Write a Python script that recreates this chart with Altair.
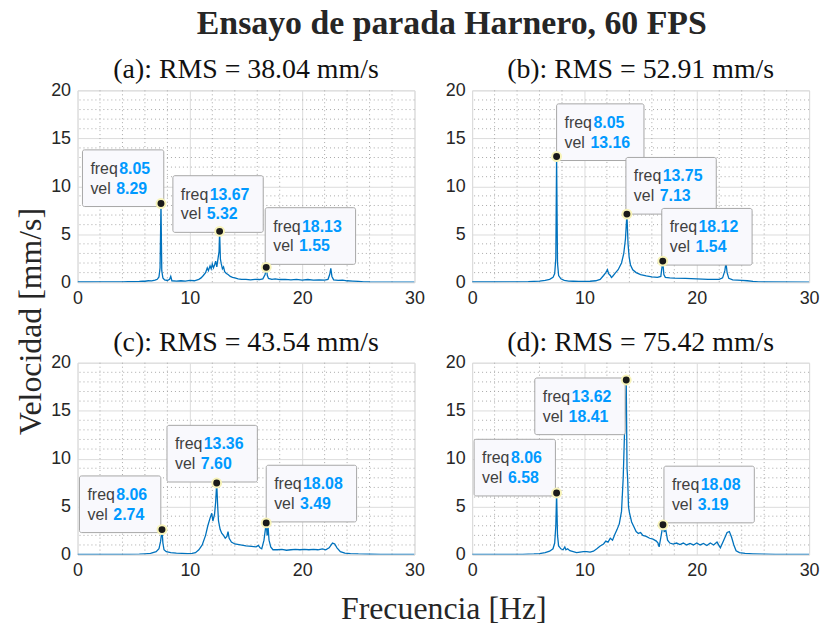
import altair as alt
import pandas as pd

# ---------------- data ----------------
a_freq = [0, 1, 2, 3, 4, 4.5, 5, 5.5, 5.8, 6.0, 6.3, 6.6, 6.9, 7.1, 7.25, 7.35, 7.43, 7.5, 7.6, 7.75, 8.0, 8.2, 8.3, 8.4,
          8.8, 9.2, 9.6, 10.0, 10.4, 10.8, 11.0, 11.2, 11.4, 11.55, 11.65, 11.8, 11.9, 12.0, 12.1, 12.2, 12.3, 12.4,
          12.5, 12.6, 12.65, 12.72, 12.8, 12.9, 13.0, 13.1, 13.25, 13.4, 13.6, 13.8, 14.0, 14.3, 14.6, 15.0, 15.4,
          15.8, 16.2, 16.5, 16.7, 16.8, 16.9, 17.0, 17.3, 17.6, 18.0, 18.5, 19.0, 19.5, 20.0, 20.5, 21.0, 21.5,
          22.0, 22.3, 22.45, 22.55, 22.65, 22.8, 23.2, 23.6, 24.0, 24.5, 25.0, 25.5, 26, 27, 28, 30]
a_vel = [0.02, 0.02, 0.03, 0.03, 0.04, 0.05, 0.06, 0.08, 0.12, 0.10, 0.15, 0.14, 0.22, 0.30, 0.55, 1.5, 8.2, 1.2, 0.45,
         0.25, 0.18, 0.3, 0.6, 0.15, 0.12, 0.15, 0.12, 0.18, 0.15, 0.3, 0.45, 0.7, 1.0, 1.5, 1.2, 1.7, 1.4, 1.9, 1.5,
         1.8, 2.2, 1.6, 2.4, 3.2, 5.3, 2.4, 1.9, 1.4, 1.6, 1.1, 0.9, 0.8, 0.6, 0.5, 0.45, 0.35, 0.3, 0.3, 0.25, 0.3,
         0.28, 0.35, 0.8, 1.55, 0.7, 0.4, 0.3, 0.35, 0.28, 0.3, 0.25, 0.3, 0.22, 0.28, 0.22, 0.25, 0.22, 0.3, 0.8,
         1.45, 0.6, 0.25, 0.2, 0.22, 0.15, 0.12, 0.08, 0.04, 0.02, 0.01, 0.01, 0.01]

b_freq = [0, 2, 4, 5, 5.5, 6.0, 6.5, 6.9, 7.2, 7.35, 7.45, 7.52, 7.6, 7.7, 7.9, 8.2, 8.6, 9.0, 9.5, 10, 10.5, 11.0,
          11.4, 11.7, 11.9, 12.05, 12.15, 12.3, 12.4, 12.5, 12.7, 13.0, 13.3, 13.5, 13.65, 13.78, 13.88, 13.98, 14.1,
          14.3, 14.6, 15.0, 15.5, 16.0, 16.5, 16.8, 16.97, 17.07, 17.2, 17.6, 18, 19, 20, 21, 22, 22.3, 22.5, 22.6,
          22.7, 22.85, 23.2, 24, 24.5, 25, 25.5, 26, 30]
b_vel = [0.02, 0.02, 0.03, 0.05, 0.08, 0.12, 0.2, 0.3, 0.5, 0.9, 2.5, 13.1, 2.0, 0.7, 0.35, 0.2, 0.12, 0.1, 0.08,
         0.08, 0.1, 0.15, 0.3, 0.7, 1.0, 1.3, 0.9, 0.7, 0.5, 0.6, 0.9, 1.3, 2.0, 3.0, 4.5, 7.1, 4.0, 2.6, 1.8, 1.3,
         1.0, 0.8, 0.65, 0.55, 0.5, 0.6, 2.2, 0.8, 0.5, 0.45, 0.42, 0.4, 0.35, 0.3, 0.3, 0.45, 1.2, 2.05, 1.0, 0.4,
         0.25, 0.2, 0.15, 0.08, 0.03, 0.02, 0.01]

c_freq = [0, 3, 4.5, 5.5, 6.0, 6.5, 7.0, 7.25, 7.4, 7.52, 7.6, 7.7, 7.9, 8.3, 8.8, 9.3, 9.8, 10.2, 10.5, 10.8, 11.1,
          11.4, 11.6, 11.8, 11.95, 12.05, 12.2, 12.3, 12.39, 12.48, 12.55, 12.7, 12.85, 13.0, 13.15, 13.3, 13.4,
          13.5, 13.7, 14.0, 14.5, 15.0, 15.5, 15.9, 16.1, 16.25, 16.4, 16.6, 16.8, 16.88, 16.97, 17.05, 17.2, 17.4,
          17.8, 18.2, 18.6, 19, 19.4, 19.8, 20.2, 20.6, 21, 21.4, 21.8, 22.1, 22.4, 22.7, 22.9, 23.1, 23.4, 23.8,
          24.3, 25, 26, 27, 30]
c_vel = [0.01, 0.01, 0.02, 0.05, 0.08, 0.12, 0.3, 0.6, 1.4, 2.6, 1.2, 0.5, 0.3, 0.2, 0.15, 0.12, 0.1, 0.12, 0.2,
         0.5, 1.0, 2.0, 3.0, 3.8, 4.3, 3.5, 4.2, 5.5, 7.46, 5.0, 3.5, 2.6, 2.2, 2.0, 1.7, 1.9, 2.4, 1.7, 1.3, 1.1,
         1.0, 0.9, 0.85, 0.8, 0.95, 0.7, 0.6, 1.5, 3.3, 2.0, 2.8, 1.5, 0.8, 0.5, 0.5, 0.55, 0.45, 0.5, 0.55, 0.5,
         0.55, 0.5, 0.55, 0.5, 0.6, 0.5, 0.7, 1.2, 1.1, 0.7, 0.3, 0.15, 0.1, 0.06, 0.03, 0.01, 0.01]

d_freq = [0, 3, 4.5, 5.5, 6.0, 6.5, 6.9, 7.2, 7.35, 7.45, 7.52, 7.6, 7.7, 7.9, 8.1, 8.25, 8.35, 8.5, 8.7, 9.0, 9.3,
          9.6, 9.9, 10.2, 10.5, 10.8, 11.1, 11.4, 11.7, 11.9, 12.1, 12.3, 12.5, 12.7, 12.9, 13.1, 13.3, 13.45, 13.6,
          13.72, 13.79, 13.85, 13.92, 14.0, 14.2, 14.4, 14.6, 14.8, 15.0, 15.2, 15.5, 15.8, 16.1, 16.4, 16.55, 16.65,
          16.8, 16.99, 17.1, 17.25, 17.4, 17.6, 17.9, 18.2, 18.5, 18.8, 19.1, 19.4, 19.7, 20.0, 20.3, 20.6, 20.9,
          21.2, 21.5, 21.8, 22.1, 22.4, 22.7, 22.9, 23.1, 23.3, 23.5, 23.8, 24.3, 25, 26, 27, 30]
d_vel = [0.01, 0.01, 0.02, 0.06, 0.1, 0.2, 0.35, 0.6, 1.2, 3.0, 6.42, 2.0, 0.9, 0.6, 0.5, 0.8, 0.5, 0.6, 0.4, 0.3,
         0.2, 0.25, 0.3, 0.3, 0.25, 0.35, 0.6, 0.9, 1.1, 1.4, 1.3, 1.7, 1.5, 2.1, 2.6, 3.2, 4.5, 8.0, 14.0, 18.2, 9.0,
         7.8, 5.0, 4.4, 3.4, 2.9, 2.4, 2.2, 2.3, 2.0, 1.9, 1.7, 1.6, 1.4, 1.2, 0.8, 1.8, 3.1, 2.4, 2.5, 1.5, 1.2,
         1.1, 1.2, 1.05, 1.2, 1.0, 1.15, 1.0, 1.2, 1.0, 1.15, 0.95, 1.2, 1.0, 1.3, 0.7, 1.5, 2.3, 2.4, 1.8, 1.0,
         0.4, 0.2, 0.12, 0.08, 0.04, 0.02, 0.01]

# data tips: marker position, shown texts
a_tip_x = [7.43, 12.65, 16.8]
a_tip_y = [8.2, 5.3, 1.55]
a_tip_freq = ["8.05", "13.67", "18.13"]
a_tip_vel = ["8.29", "5.32", "1.55"]

b_tip_x = [7.52, 13.78, 16.97]
b_tip_y = [13.1, 7.1, 2.2]
b_tip_freq = ["8.05", "13.75", "18.12"]
b_tip_vel = ["13.16", "7.13", "1.54"]

c_tip_x = [7.52, 12.39, 16.8]
c_tip_y = [2.6, 7.46, 3.3]
c_tip_freq = ["8.06", "13.36", "18.08"]
c_tip_vel = ["2.74", "7.60", "3.49"]

d_tip_x = [7.52, 13.72, 16.99]
d_tip_y = [6.42, 18.2, 3.1]
d_tip_freq = ["8.06", "13.62", "18.08"]
d_tip_vel = ["6.58", "18.41", "3.19"]

subtitles = ["(a): RMS = 38.04 mm/s", "(b): RMS = 52.91 mm/s",
             "(c): RMS = 43.54 mm/s", "(d): RMS = 75.42 mm/s"]

x_ticks = [0, 10, 20, 30]
y_ticks = [0, 5, 10, 15, 20]
x_minor = [2, 4, 6, 8, 12, 14, 16, 18, 22, 24, 26, 28]
y_minor = [1, 2, 3, 4, 6, 7, 8, 9, 11, 12, 13, 14, 16, 17, 18, 19]

# ---------------- layout (pixels) ----------------
W, H = 339, 193
PX_X = W / 30.0
PX_Y = H / 20.0
BOX_H = 57
# offset of each box's top-left corner from its marker, in pixels
a_box_off = [(-79, -54), (-47, -56), (-1, -60)]
b_box_off = [(0, -53), (-1, -57), (-1, -53)]
c_box_off = [(-83, -54), (-50, -58), (0, -58)]
d_box_off = [(-83, -54), (-92, -2), (1, -59)]

AX = "#262626"
BLUE = "#0072BD"
SANS = "Liberation Sans"
SERIF = "Liberation Serif"

xs = alt.Scale(domain=[0, 30], nice=False, zero=False)
ys = alt.Scale(domain=[0, 20], nice=False)


def text_w(s):
    return sum(4.5 if ch == "." else 9.1 for ch in s)


def make_panel(freq, vel, tx, ty, tf, tv, offs, subtitle, xtitle=None, ytitle=None):
    xaxis_kw = dict(values=x_ticks, labelFont=SANS, labelFontSize=18, labelColor=AX, labelPadding=7,
                    ticks=False, domain=False, gridColor="#dcdcdc", gridWidth=1, labelFlush=False,
                    format="d")
    yaxis_kw = dict(values=y_ticks, labelFont=SANS, labelFontSize=18, labelColor=AX, labelPadding=7,
                    ticks=False, domain=False, gridColor="#dcdcdc", gridWidth=1, labelFlush=False,
                    format="d")
    if xtitle:
        xaxis_kw.update(title=xtitle, titleFont=SERIF, titleFontSize=32, titleFontWeight="normal",
                        titleColor=AX, titleX=368, titleY=54, titleBaseline="middle")
    else:
        xaxis_kw.update(title=None)
    if ytitle:
        yaxis_kw.update(title=ytitle, titleFont=SERIF, titleFontSize=32, titleFontWeight="normal",
                        titleColor=AX, titleX=-47, titleY=232, titleBaseline="middle", titleAngle=270)
    else:
        yaxis_kw.update(title=None)
    xaxis = alt.Axis(**xaxis_kw)
    yaxis = alt.Axis(**yaxis_kw)
    X = alt.X("f:Q", scale=xs, axis=xaxis)
    Y = alt.Y("v:Q", scale=ys, axis=yaxis)

    gx = alt.Chart(pd.DataFrame({"f": x_minor})).mark_rule(
        color="#a8a8a8", strokeDash=[1, 3], strokeWidth=1).encode(x=X)
    gy = alt.Chart(pd.DataFrame({"v": y_minor})).mark_rule(
        color="#a8a8a8", strokeDash=[1, 3], strokeWidth=1).encode(y=Y)

    line = alt.Chart(pd.DataFrame({"f": freq, "v": vel})).mark_line(
        color=BLUE, strokeWidth=1.3, clip=True).encode(x=X, y=Y)

    rows = []
    for x, y, f, v, (dx, dy) in zip(tx, ty, tf, tv, offs):
        bw = max(37 + text_w(f), 34 + text_w(v)) + 13
        left = x + dx / PX_X
        top = y - dy / PX_Y
        rows.append(dict(f=x, v=y, bl=left, br=left + bw / PX_X, bt=top, bb=top - BOX_H / PX_Y,
                         lx=left + 8 / PX_X, v1x=left + 37 / PX_X, v2x=left + 34 / PX_X,
                         r1=top - 19 / PX_Y, r2=top - 39 / PX_Y, fs=f, vs=v))
    tips = pd.DataFrame(rows)
    base = alt.Chart(tips)
    box = base.mark_rect(fill="#f9f9fd", stroke="#a6a6a6", strokeWidth=1, cornerRadius=2).encode(
        x=alt.X("bl:Q", scale=xs, axis=xaxis), x2="br:Q",
        y=alt.Y("bt:Q", scale=ys, axis=yaxis), y2="bb:Q")
    tk = dict(font=SANS, fontSize=16, align="left", baseline="middle")
    t1 = base.mark_text(color="#404040", text="freq", **tk).encode(
        x=alt.X("lx:Q", scale=xs, axis=xaxis), y=alt.Y("r1:Q", scale=ys, axis=yaxis))
    t2 = base.mark_text(color="#404040", text="vel", **tk).encode(
        x=alt.X("lx:Q", scale=xs, axis=xaxis), y=alt.Y("r2:Q", scale=ys, axis=yaxis))
    t3 = base.mark_text(color="#0099ff", fontWeight="bold", **tk).encode(
        x=alt.X("v1x:Q", scale=xs, axis=xaxis), y=alt.Y("r1:Q", scale=ys, axis=yaxis), text="fs:N")
    t4 = base.mark_text(color="#0099ff", fontWeight="bold", **tk).encode(
        x=alt.X("v2x:Q", scale=xs, axis=xaxis), y=alt.Y("r2:Q", scale=ys, axis=yaxis), text="vs:N")
    dot = base.mark_circle(size=80, color="#1a1a1a", opacity=1, stroke="#f7f3b8", strokeWidth=2).encode(
        x=X, y=Y)

    return alt.layer(gx, gy, line, box, t1, t2, t3, t4, dot).properties(
        width=W, height=H,
        title=alt.TitleParams(subtitle, font=SERIF, fontSize=28, fontWeight="normal", color="#111111",
                              offset=-3, anchor="middle"))


pa = make_panel(a_freq, a_vel, a_tip_x, a_tip_y, a_tip_freq, a_tip_vel, a_box_off, subtitles[0],
                ytitle="Velocidad [mm/s]")
pb = make_panel(b_freq, b_vel, b_tip_x, b_tip_y, b_tip_freq, b_tip_vel, b_box_off, subtitles[1])
pc = make_panel(c_freq, c_vel, c_tip_x, c_tip_y, c_tip_freq, c_tip_vel, c_box_off, subtitles[2],
                xtitle="Frecuencia [Hz]")
pd_ = make_panel(d_freq, d_vel, d_tip_x, d_tip_y, d_tip_freq, d_tip_vel, d_box_off, subtitles[3])

chart = alt.concat(pa, pb, pc, pd_, columns=2, spacing=alt.RowColnumber(row=81, column=58),
                   bounds="flush").properties(
    title=alt.TitleParams("Ensayo de parada Harnero, 60 FPS", font=SERIF, fontSize=34, fontWeight="bold",
                          color="#262626", anchor="middle", offset=15, dx=35),
    padding={"left": 14, "top": 5, "right": 5, "bottom": 5},
).configure_view(stroke=AX, strokeWidth=1).configure(background="white")

chart.save("out.html", embed_options={"renderer": "svg", "actions": False})
